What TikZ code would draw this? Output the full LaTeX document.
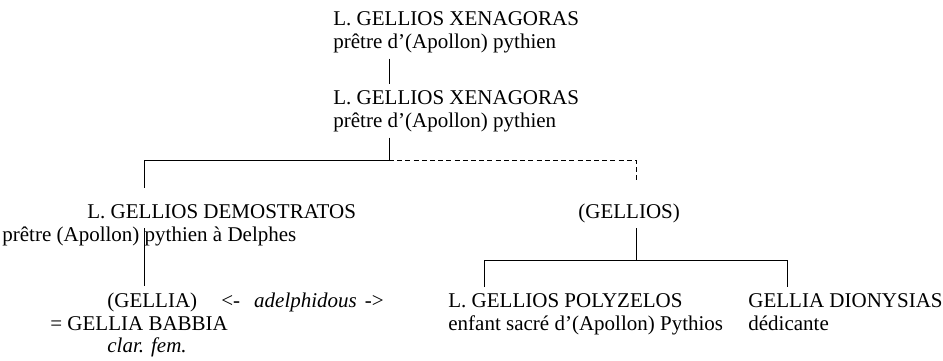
\documentclass[tikz,border=0pt]{standalone}
\usepackage{fontspec}
\setmainfont{Liberation Serif}
\begin{document}
\begin{tikzpicture}[x=0.5pt,y=-0.5pt,
		txt/.style={inner sep=0pt,outer ysep=3pt,anchor=base west,font=\rmfamily\fontsize{10.5pt}{11.5pt}\selectfont}]
	\useasboundingbox (0,0) rectangle (943,360);
	% generation 1 and 2
	\node[txt] (xenA) at (333,25) {L. GELLIOS XENAGORAS};
	\node[txt] (xenAp) at (333,48) {prêtre d'(Apollon) pythien};
	\node[txt] (xenB) at (333,104) {L. GELLIOS XENAGORAS};
	\node[txt] (xenBp) at (333,127) {prêtre d'(Apollon) pythien};
	% generation 3
	\node[txt] (demo) at (87,218) {L. GELLIOS DEMOSTRATOS};
	\node[txt] (demop) at (2,241) {prêtre (Apollon) pythien à Delphes};
	\node[txt] (gellios) at (578,218) {(GELLIOS)};
	% generation 4
	\node[txt] (gellia) at (107,307) {(GELLIA)};
	\node[txt] (adelph) at (221,307) {<-\hspace{7pt}\textit{adelphidous}\hspace{4pt}->};
	\node[txt] (babbia) at (50,330) {= GELLIA BABBIA};
	\node[txt] (clar) at (107,352) {\textit{clar. fem.}};
	\node[txt] (polyz) at (448,307) {L. GELLIOS POLYZELOS};
	\node[txt] (polyzp) at (448,330) {enfant sacré d'(Apollon) Pythios};
	\node[txt] (dionys) at (748,307) {GELLIA DIONYSIAS};
	\node[txt] (dionysp) at (748,330) {dédicante};
	% junctions
	\coordinate (top) at (389,160);
	\coordinate (lft) at (144,160);
	\coordinate (rgt) at (636,160);
	\coordinate (mid) at (636,260);
	\coordinate (pl) at (484,260);
	\coordinate (pr) at (787,260);
	\draw (xenAp.south -| top) -- (xenB.north -| top);
	\draw[shorten >=5pt] (xenBp.south -| top) -- (top) -- (lft) -- (lft |- demo.north);
	\draw[dash pattern=on 2.5pt off 1.6pt,shorten >=8pt] (top) -- (rgt) -- (rgt |- gellios.north);
	\draw (gellios.south -| mid) -- (mid);
	\draw (pl |- polyz.north) -- (pl) -- (pr) -- (pr |- dionys.north);
	\draw[shorten <=4pt] (demop.north -| lft) -- (lft |- gellia.north);
\end{tikzpicture}
\end{document}
